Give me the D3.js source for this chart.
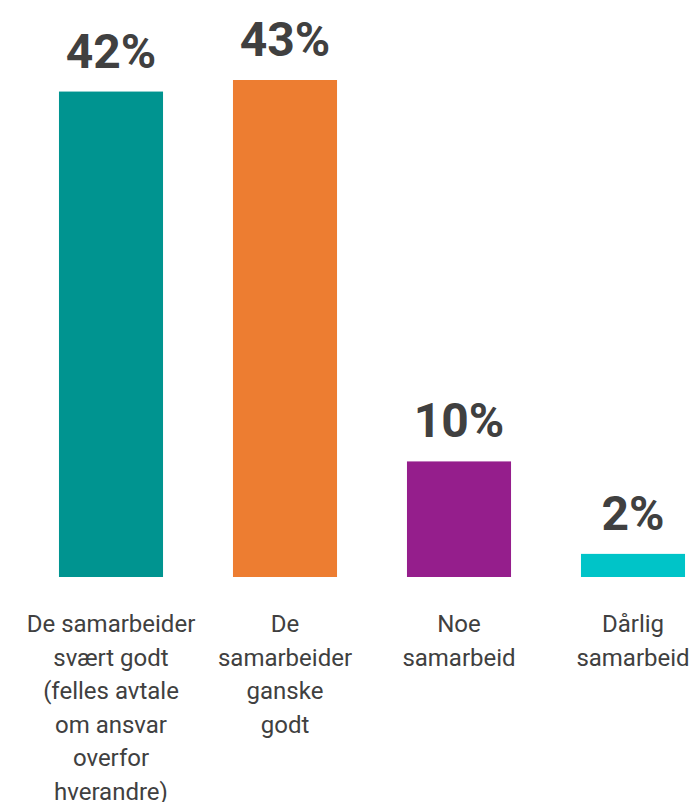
<!DOCTYPE html>
<html>
<head>
<meta charset="utf-8">
<script src="https://cdn.jsdelivr.net/npm/d3@7"></script>
<style>
  html, body { margin: 0; padding: 0; background: #ffffff; }
  svg { display: block; font-family: Roboto, "Noto Sans", Arial, sans-serif; }
</style>
</head>
<body>
<svg id="chart" width="693" height="802"></svg>
<script>
// Survey answers: how well the parties cooperate
const categories = [
  "De samarbeider\nsvært godt\n(felles avtale\nom ansvar\noverfor\nhverandre)",
  "De\nsamarbeider\nganske\ngodt",
  "Noe\nsamarbeid",
  "Dårlig\nsamarbeid"
];
const values = [42, 43, 10, 2];
const colors = ["#009490", "#ED7D31", "#951E8C", "#00C4C8"];

const svg = d3.select("#chart");
const baseline = 577;

const x = d3.scaleBand()
  .domain(categories)
  .range([24, 720])
  .paddingInner(0.402)
  .paddingOuter(0.201);

const y = d3.scaleLinear()
  .domain([0, 43])
  .range([baseline, 80]);

// Bars
svg.append("g")
  .selectAll("rect")
  .data(values)
  .join("rect")
  .attr("x", (d, i) => x(categories[i]))
  .attr("y", d => y(d))
  .attr("width", x.bandwidth())
  .attr("height", d => baseline - y(d))
  .attr("fill", (d, i) => colors[i]);

// Value labels above the bars
svg.append("g")
  .selectAll("text")
  .data(values)
  .join("text")
  .attr("x", (d, i) => x(categories[i]) + x.bandwidth() / 2)
  .attr("y", d => y(d) - 24)
  .attr("text-anchor", "middle")
  .attr("font-size", 48)
  .attr("font-weight", 700)
  .attr("fill", "#404040")
  .text(d => d + "%");

// Category labels, one tspan per line
const labels = svg.append("g")
  .selectAll("text")
  .data(categories)
  .join("text")
  .attr("x", d => x(d) + x.bandwidth() / 2)
  .attr("y", 632)
  .attr("text-anchor", "middle")
  .attr("font-size", 24)
  .attr("fill", "#404040");

labels.each(function(d) {
  const t = d3.select(this);
  const cx = x(d) + x.bandwidth() / 2;
  d.split("\n").forEach((line, j) => {
    t.append("tspan")
      .attr("x", cx)
      .attr("y", 632 + j * 33.5)
      .text(line);
  });
});
</script>
</body>
</html>
